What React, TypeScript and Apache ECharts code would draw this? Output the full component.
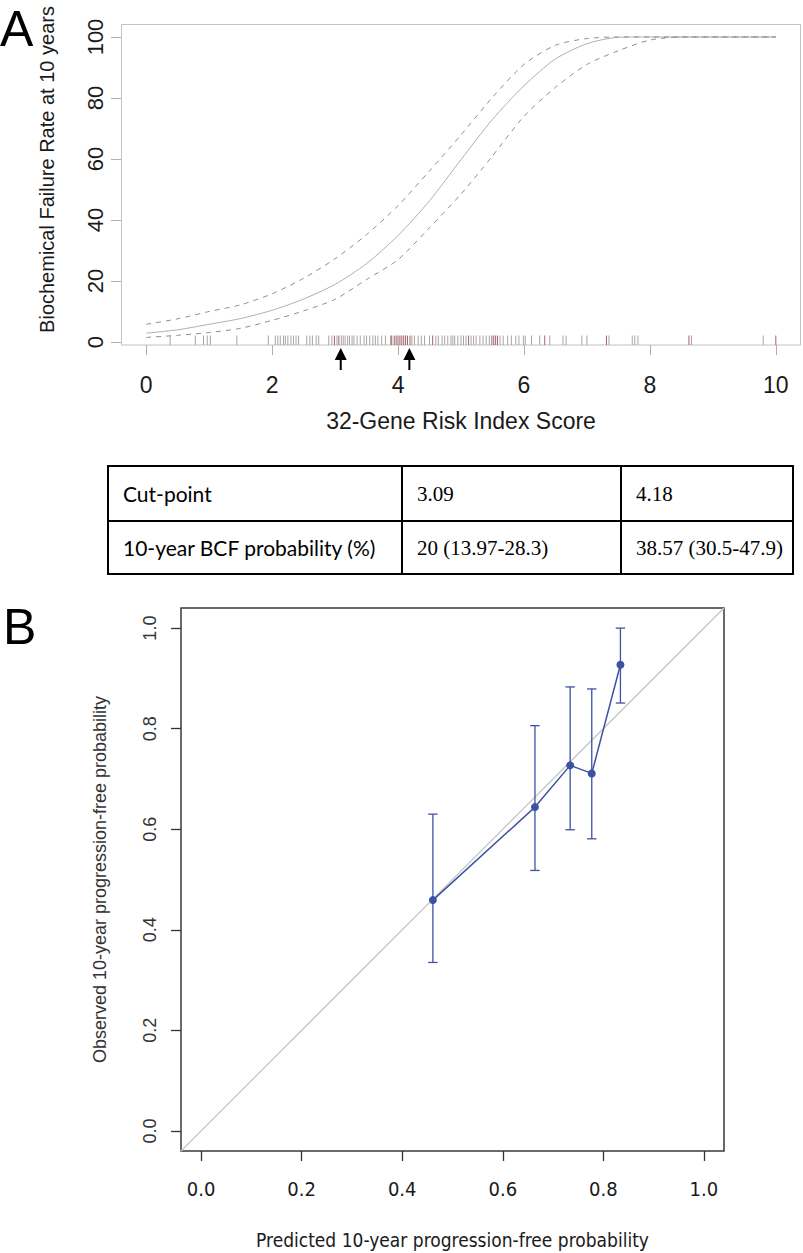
import React, { useEffect, useRef } from "react";
import * as echarts from "echarts";

// ---------- Panel A data ----------
const scoreGrid = [0, 0.5, 1, 1.5, 2, 2.5, 3, 3.5, 4, 4.5, 5, 5.5, 6, 6.5, 7, 7.5, 8, 8.5, 9, 9.5, 10];
const bcfFit = [2.9, 4.0, 5.8, 7.7, 10.4, 14.1, 18.9, 25.7, 34.9, 46.3, 59.8, 73.0, 84.0, 92.8, 97.8, 99.9, 100, 100, 100, 100, 100];
const bcfUpper = [5.8, 7.6, 10.0, 12.2, 15.8, 20.9, 27.3, 35.2, 44.7, 56.1, 67.9, 80.2, 91.0, 97.3, 99.5, 100, 100, 100, 100, 100, 100];
const bcfLower = [1.5, 2.2, 3.1, 4.5, 7.1, 10.2, 14.0, 20.5, 27.0, 37.5, 48.5, 61.0, 74.0, 83.5, 91.0, 95.5, 99.0, 100, 100, 100, 100];
const xTicksA = [0, 2, 4, 6, 8, 10];
const yTicksA = [0, 20, 40, 60, 80, 100];

const rugGray = [
  0.38, 0.78, 0.91, 0.97, 1.02, 1.44, 1.94,
  2.05, 2.09, 2.13, 2.18, 2.21, 2.25, 2.3, 2.34, 2.38, 2.42, 2.55, 2.6, 2.64, 2.7, 2.74, 2.9, 2.95,
  3.03, 3.1, 3.13, 3.16, 3.2, 3.23, 3.27, 3.3, 3.35, 3.4, 3.46, 3.5, 3.55, 3.6, 3.64, 3.68, 3.74, 3.8,
  3.88, 4.22, 4.26, 4.32, 4.37, 4.42, 4.5, 4.6, 4.64, 4.7, 4.74, 4.79, 4.84, 4.87, 4.9, 4.95, 5.0,
  5.04, 5.08, 5.16, 5.2, 5.24, 5.3, 5.35, 5.4, 5.45, 5.62, 5.67, 5.74, 5.8, 5.87, 5.92, 5.99, 6.02,
  6.12, 6.25, 6.41, 6.62, 6.67, 6.92, 7.0, 7.35, 7.72, 7.76, 7.81, 8.66, 9.8,
];
const rugRed = [
  2.99, 3.06, 3.9, 3.94, 3.97, 4.0, 4.03, 4.06, 4.09, 4.12, 4.15, 4.19, 4.55, 5.12,
  5.49, 5.52, 5.55, 5.58, 6.33, 7.31, 8.62, 10.0,
];
const cutPoints = [3.09, 4.18];

const xTitleA = "32-Gene Risk Index Score";
const yTitleA = "Biochemical Failure Rate at 10 years";

// ---------- Table ----------
const tableHeader = ["Cut-point", "3.09", "4.18"];
const tableRow = ["10-year BCF probability (%)", "20 (13.97-28.3)", "38.57 (30.5-47.9)"];

// ---------- Panel B data ----------
const calPredicted = [0.461, 0.664, 0.734, 0.777, 0.834];
const calObserved = [0.459, 0.644, 0.727, 0.711, 0.927];
const calLower = [0.335, 0.518, 0.599, 0.581, 0.851];
const calUpper = [0.63, 0.806, 0.883, 0.879, 1.0];
const probTicks = [0, 0.2, 0.4, 0.6, 0.8, 1.0];
const diagonal = [-0.04, 1.04];

const xTitleB = "Predicted 10-year progression-free probability";
const yTitleB = "Observed 10-year progression-free probability";

const SANS = "'Liberation Sans', Arial, Helvetica, sans-serif";
const NARROW = "'Liberation Sans Narrow', 'Arial Narrow', 'DejaVu Sans Condensed', 'Liberation Sans', Arial, sans-serif";
const SERIF = "'Liberation Serif', 'Times New Roman', serif";
const TABLE_SANS = "Lato, 'Open Sans', sans-serif";
const BLUE = "#3d52a3";

function buildOption() {
  const rugSeries = (vals: number[], color: string) => ({
    type: "custom",
    xAxisIndex: 0,
    yAxisIndex: 0,
    clip: false,
    silent: true,
    encode: { x: 0, y: 1 },
    data: vals.map((v) => [v, 0]),
    renderItem: (_p: any, api: any) => {
      const pt = api.coord([api.value(0), 0]);
      return {
        type: "line",
        shape: { x1: pt[0], y1: pt[1] + 3, x2: pt[0], y2: pt[1] - 6.5 },
        style: { stroke: color, lineWidth: 1 },
      };
    },
  });

  const tx = [108, 402, 621, 793];
  const ty = [466, 521, 574];

  return {
    animation: false,
    backgroundColor: "#ffffff",
    textStyle: { fontFamily: SANS },
    grid: [
      { left: 121, top: 24, width: 680, height: 321, outerBoundsMode: "none" },
      { left: 181, top: 608, width: 543, height: 543, outerBoundsMode: "none" },
    ],
    xAxis: [
      {
        gridIndex: 0,
        type: "value",
        min: -0.4,
        max: 10.4,
        splitLine: { show: false },
        axisLine: { show: false, onZero: false },
        axisTick: { show: true, inside: false, length: 10, customValues: xTicksA, lineStyle: { color: "#b0b0b0", width: 1 } },
        axisLabel: { fontSize: 23, color: "#1a1a1a", margin: 28, fontFamily: SANS, customValues: xTicksA },
        name: xTitleA,
        nameLocation: "middle",
        nameGap: 64,
        nameMoveOverlap: false,
        nameTextStyle: { fontSize: 23, color: "#1a1a1a", fontFamily: SANS },
      },
      {
        gridIndex: 1,
        type: "value",
        min: -0.04,
        max: 1.04,
        splitLine: { show: false },
        axisLine: { show: false, onZero: false },
        axisTick: { show: true, inside: false, length: 10, customValues: probTicks, lineStyle: { color: "#333333", width: 1.3 } },
        axisLabel: {
          fontSize: 20,
          color: "#1a1a1a",
          margin: 28,
          fontFamily: NARROW,
          customValues: probTicks,
          formatter: (v: number) => v.toFixed(1),
        },
        name: xTitleB,
        nameLocation: "middle",
        nameGap: 79,
        nameMoveOverlap: false,
        nameTextStyle: { fontSize: 19, color: "#1a1a1a", fontFamily: NARROW },
      },
    ],
    yAxis: [
      {
        gridIndex: 0,
        type: "value",
        min: -0.98,
        max: 104.26,
        splitLine: { show: false },
        axisLine: { show: false, onZero: false },
        axisTick: { show: true, inside: false, length: 10, customValues: yTicksA, lineStyle: { color: "#b0b0b0", width: 1 } },
        axisLabel: { fontSize: 22, color: "#1a1a1a", rotate: 90, margin: 15, fontFamily: SANS, customValues: yTicksA },
        name: yTitleA,
        nameLocation: "middle",
        nameRotate: 90,
        nameGap: 64,
        nameMoveOverlap: false,
        nameTextStyle: { fontSize: 20, color: "#1a1a1a", fontFamily: SANS, padding: [0, 0, 0, 30] },
      },
      {
        gridIndex: 1,
        type: "value",
        min: -0.04,
        max: 1.04,
        splitLine: { show: false },
        axisLine: { show: false, onZero: false },
        axisTick: { show: true, inside: false, length: 10, customValues: probTicks, lineStyle: { color: "#333333", width: 1.3 } },
        axisLabel: {
          fontSize: 18,
          color: "#333333",
          rotate: 90,
          margin: 22,
          fontFamily: SANS,
          customValues: probTicks,
          formatter: (v: number) => v.toFixed(1),
        },
        name: yTitleB,
        nameLocation: "middle",
        nameRotate: 90,
        nameGap: 72,
        nameMoveOverlap: false,
        nameTextStyle: { fontSize: 18, color: "#333333", fontFamily: SANS },
      },
    ],
    series: [
      {
        type: "line",
        xAxisIndex: 0,
        yAxisIndex: 0,
        data: scoreGrid.map((x, i) => [x, bcfFit[i]]),
        showSymbol: false,
        symbol: "none",
        smooth: 0.25,
        silent: true,
        lineStyle: { color: "#aeaebb", width: 1 },
      },
      {
        type: "line",
        xAxisIndex: 0,
        yAxisIndex: 0,
        data: scoreGrid.map((x, i) => [x, bcfUpper[i]]),
        showSymbol: false,
        symbol: "none",
        smooth: 0.25,
        silent: true,
        lineStyle: { color: "#8e8e8e", width: 1, type: [5, 5] },
      },
      {
        type: "line",
        xAxisIndex: 0,
        yAxisIndex: 0,
        data: scoreGrid.map((x, i) => [x, bcfLower[i]]),
        showSymbol: false,
        symbol: "none",
        smooth: 0.25,
        silent: true,
        lineStyle: { color: "#8e8e8e", width: 1, type: [5, 5] },
      },
      rugSeries(rugGray, "#aaa3a5"),
      rugSeries(rugRed, "#a0646b"),
      {
        type: "custom",
        xAxisIndex: 0,
        yAxisIndex: 0,
        clip: false,
        silent: true,
        encode: { x: 0, y: 1 },
        data: cutPoints.map((v) => [v, 0]),
        renderItem: (_p: any, api: any) => {
          const pt = api.coord([api.value(0), 0]);
          const x = pt[0];
          const y0 = pt[1] + 3;
          return {
            type: "group",
            children: [
              {
                type: "line",
                shape: { x1: x, y1: y0 + 25, x2: x, y2: y0 + 12 },
                style: { stroke: "#000", lineWidth: 2 },
              },
              {
                type: "polygon",
                shape: { points: [[x, y0 + 3], [x - 6, y0 + 15], [x + 6, y0 + 15]] },
                style: { fill: "#000" },
              },
            ],
          };
        },
      },
      {
        type: "line",
        xAxisIndex: 1,
        yAxisIndex: 1,
        data: diagonal.map((v) => [v, v]),
        showSymbol: false,
        symbol: "none",
        clip: false,
        silent: true,
        lineStyle: { color: "#c9c9c9", width: 1.5 },
        z: 1,
      },
      {
        type: "custom",
        xAxisIndex: 1,
        yAxisIndex: 1,
        silent: true,
        clip: false,
        encode: { x: 0, y: [1, 2] },
        data: calPredicted.map((x, i) => [x, calLower[i], calUpper[i]]),
        renderItem: (_p: any, api: any) => {
          const x = api.value(0);
          const lo = api.coord([x, api.value(1)]);
          const hi = api.coord([x, api.value(2)]);
          const st = { stroke: BLUE, lineWidth: 1.3 };
          return {
            type: "group",
            children: [
              { type: "line", shape: { x1: lo[0], y1: lo[1], x2: hi[0], y2: hi[1] }, style: st },
              { type: "line", shape: { x1: lo[0] - 4.7, y1: lo[1], x2: lo[0] + 4.7, y2: lo[1] }, style: st },
              { type: "line", shape: { x1: hi[0] - 4.7, y1: hi[1], x2: hi[0] + 4.7, y2: hi[1] }, style: st },
            ],
          };
        },
        z: 2,
      },
      {
        type: "line",
        xAxisIndex: 1,
        yAxisIndex: 1,
        data: calPredicted.map((x, i) => [x, calObserved[i]]),
        symbol: "circle",
        symbolSize: 8,
        showSymbol: true,
        silent: true,
        itemStyle: { color: BLUE, borderWidth: 0 },
        lineStyle: { color: BLUE, width: 1.5 },
        z: 3,
      },
    ],
    graphic: [
      {
        type: "text",
        x: 0,
        y: 28.5,
        style: { text: "A", fontSize: 50, fontFamily: SANS, fill: "#000", textAlign: "left", textVerticalAlign: "middle" },
      },
      {
        type: "text",
        x: 3,
        y: 626.5,
        style: { text: "B", fontSize: 50, fontFamily: SANS, fill: "#000", textAlign: "left", textVerticalAlign: "middle" },
      },
      {
        type: "rect",
        shape: { x: 121.5, y: 24.5, width: 679, height: 320.5 },
        style: { fill: "none", stroke: "#c2c2c2", lineWidth: 1 },
        silent: true,
      },
      {
        type: "rect",
        shape: { x: 181, y: 608, width: 543, height: 543 },
        style: { fill: "none", stroke: "#3a3a3a", lineWidth: 1.5 },
        silent: true,
      },
      {
        type: "rect",
        shape: { x: tx[0], y: ty[0], width: tx[3] - tx[0], height: ty[2] - ty[0] },
        style: { fill: "none", stroke: "#000", lineWidth: 2 },
        silent: true,
      },
      {
        type: "line",
        shape: { x1: tx[0], y1: ty[1], x2: tx[3], y2: ty[1] },
        style: { stroke: "#000", lineWidth: 2 },
        silent: true,
      },
      {
        type: "line",
        shape: { x1: tx[1], y1: ty[0], x2: tx[1], y2: ty[2] },
        style: { stroke: "#000", lineWidth: 2 },
        silent: true,
      },
      {
        type: "line",
        shape: { x1: tx[2], y1: ty[0], x2: tx[2], y2: ty[2] },
        style: { stroke: "#000", lineWidth: 2 },
        silent: true,
      },
      ...[tableHeader, tableRow].flatMap((row, r) =>
        row.map((cell, c) => ({
          type: "text",
          x: tx[c] + 15,
          y: (ty[r] + ty[r + 1]) / 2,
          style: {
            text: cell,
            fontSize: c === 0 ? 21 : 21,
            fontFamily: c === 0 ? TABLE_SANS : SERIF,
            fill: "#000",
            textAlign: "left",
            textVerticalAlign: "middle",
          },
          silent: true,
        }))
      ),
    ],
  };
}

export default function App() {
  const ref = useRef<HTMLDivElement>(null);
  useEffect(() => {
    if (!ref.current) return;
    const chart = echarts.init(ref.current, null, { renderer: "svg" });
    chart.setOption(buildOption() as any);
    return () => chart.dispose();
  }, []);
  return (
    <div
      ref={ref}
      style={{ position: "absolute", left: 0, top: 0, width: 803, height: 1253, background: "#fff" }}
    />
  );
}
